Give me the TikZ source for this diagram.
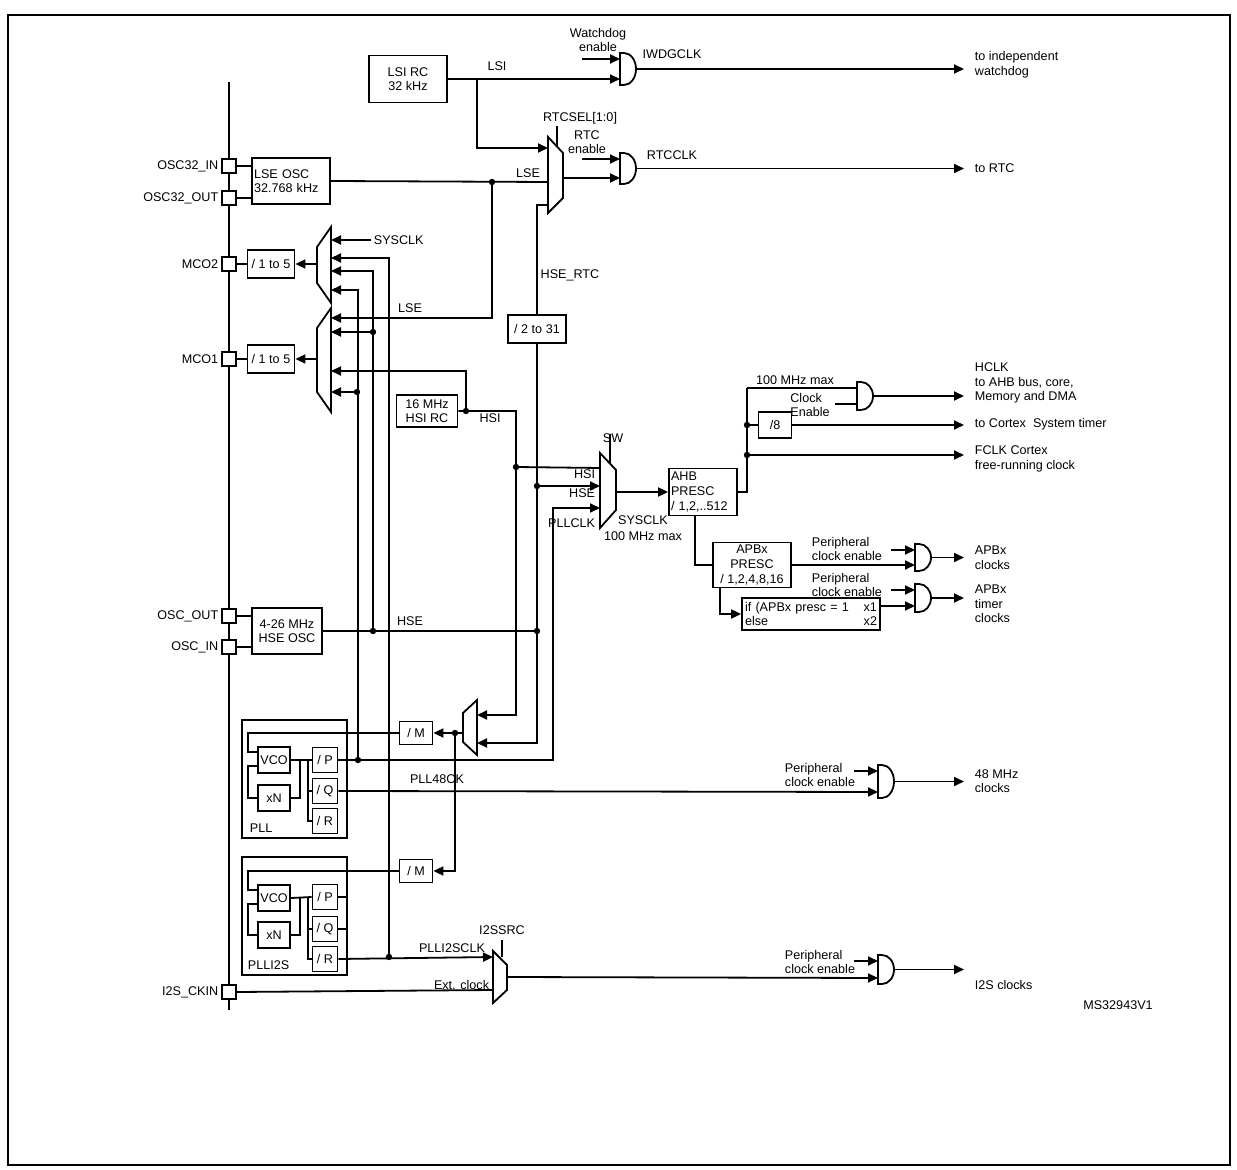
\documentclass[tikz,border=0pt]{standalone}
\usepackage{fontspec}
\setmainfont{Liberation Sans}
\usetikzlibrary{arrows.meta}

\tikzset{
  arr/.style={-{Triangle[length=5pt,width=4.5pt]}},
  bx/.style={rectangle, draw, inner sep=1pt, align=center},
  pad/.style={rectangle, draw, fill=white, minimum size=7pt, inner sep=0pt},
  dot/.style={circle, fill, inner sep=0pt, minimum size=3.2pt},
  lbl/.style={inner sep=1pt, align=left},
  outtxt/.style={anchor=west, inner sep=1pt, align=left},
}
% and gate: name, left x, first input y, second input y
\newcommand{\andg}[4]{%
  \draw (#2,#3-6) -- ++(4,0) arc[start angle=90, end angle=-90, x radius=6pt, y radius={(#4-#3+12)/4*1pt}] -- (#2,#4+6) -- cycle;
  \coordinate (#1-1) at (#2,#3);
  \coordinate (#1-2) at (#2,#4);
  \coordinate (#1-o) at (#2+16,{(#3+#4)/2});}

\begin{document}
\begin{tikzpicture}[x=0.5pt,y=-0.5pt,line width=0.9pt,font=\fontsize{6.3}{7.3}\selectfont]
\useasboundingbox (0,0) rectangle (1237,1170);
\draw[line width=0.6pt] (8,15) rectangle (1230,1165);

% left bus and pads
\draw (229,82) -- (229,1010);
\node (p32in) [pad] at (229,166) {};
\node (p32out) [pad] at (229,198) {};
\node (pmco2) [pad] at (229,264) {};
\node (pmco1) [pad] at (229,359) {};
\node (poscout) [pad] at (229,616) {};
\node (poscin) [pad] at (229,647) {};
\node (pi2s) [pad] at (229,992) {};
\node [lbl, anchor=east] at (p32in.west) {OSC32\_IN};
\node [lbl, anchor=east] at (p32out.west) {OSC32\_OUT};
\node [lbl, anchor=east] at (pmco2.west) {MCO2};
\node [lbl, anchor=east] at (pmco1.west) {MCO1};
\node [lbl, anchor=east] at (poscout.west) {OSC\_OUT};
\node [lbl, anchor=east] at (poscin.west) {OSC\_IN};
\node [lbl, anchor=east] at (pi2s.west) {I2S\_CKIN};

% boxes
\node (lsi) [bx, minimum width=39pt, minimum height=23.5pt] at (408,79) {LSI RC\\32 kHz};
\node (lse) [bx, minimum width=39pt, minimum height=23pt, text width=37pt, align=left] at (291,181) {LSE OSC\\32.768 kHz};
\node (mco2div) [bx, minimum width=23.5pt, minimum height=14pt] at (271,264) {/ 1 to 5};
\node (mco1div) [bx, minimum width=23.5pt, minimum height=14pt] at (271,359) {/ 1 to 5};
\node (hsi) [bx, minimum width=30.5pt, minimum height=16pt] at (427,411) {16 MHz\\HSI RC};
\node (div231) [bx, minimum width=29pt, minimum height=14pt] at (537,329) {/ 2 to 31};
\node (hse) [bx, minimum width=35pt, minimum height=23pt] at (287,631) {4-26 MHz\\HSE OSC};
\node (ahb) [bx, minimum width=34pt, minimum height=23.5pt, text width=32pt, align=left] at (703,492) {AHB\\PRESC\\/ 1,2,..512};
\node (div8) [bx, minimum width=16.5pt, minimum height=13pt] at (775,425) {/8};
\node (apb) [bx, minimum width=39pt, minimum height=22.5pt] at (752,565) {APBx\\PRESC\\/ 1,2,4,8,16};
\node (tim) [bx, minimum width=69pt, minimum height=16pt, text width=66pt] at (811,614) {if (APBx presc = 1 \hfill x1\\else \hfill x2};
\node (mpll) [bx, minimum width=16.5pt, minimum height=11.5pt] at (416,733) {/ M};
\node (mi2s) [bx, minimum width=16.5pt, minimum height=11.5pt] at (416,871) {/ M};

% PLL
\node (pll) [bx, minimum width=52.5pt, minimum height=59pt] at (294.5,779) {};
\node [lbl, anchor=west] at (247,828) {PLL};
\node (vco) [bx, minimum width=16pt, minimum height=13pt] at (274,760) {VCO};
\node (xn) [bx, minimum width=16pt, minimum height=13pt] at (274,798) {xN};
\node (pp) [bx, minimum width=12.5pt, minimum height=12.5pt] at (325,760) {/ P};
\node (pq) [bx, minimum width=12.5pt, minimum height=12.5pt] at (325,791) {/ Q};
\node (pr) [bx, minimum width=12.5pt, minimum height=12.5pt] at (325,821) {/ R};
% PLLI2S
\node (plli2s) [bx, minimum width=52.5pt, minimum height=59pt] at (294.5,916) {};
\node [lbl, anchor=west] at (245,965) {PLLI2S};
\node (vcob) [bx, minimum width=16pt, minimum height=13pt] at (274,898) {VCO};
\node (xnb) [bx, minimum width=16pt, minimum height=13pt] at (274,935) {xN};
\node (ppb) [bx, minimum width=12.5pt, minimum height=12.5pt] at (325,897) {/ P};
\node (pqb) [bx, minimum width=12.5pt, minimum height=12.5pt] at (325,929) {/ Q};
\node (prb) [bx, minimum width=12.5pt, minimum height=12.5pt] at (325,959) {/ R};

% multiplexers
\draw (548,137) -- (563,153) -- (563,198) -- (548,213) -- cycle;
\coordinate (rtcm1) at (548,148);
\coordinate (rtcm2) at (548,182);
\coordinate (rtcm3) at (548,205);
\coordinate (rtcmo) at (563,178);
\draw (557,126) -- (557,146);
\draw (600,453) -- (616,470) -- (616,510) -- (600,528) -- cycle;
\coordinate (swm1) at (600,468);
\coordinate (swm2) at (600,486);
\coordinate (swm3) at (600,508);
\coordinate (swmo) at (616,492);
\draw (610,434) -- (610,463);
\draw (331,227) -- (331,303) -- (317,283) -- (317,247) -- cycle;
\coordinate (mco2m1) at (331,240);
\coordinate (mco2m2) at (331,258);
\coordinate (mco2m3) at (331,271);
\coordinate (mco2m4) at (331,290);
\coordinate (mco2mo) at (317,264);
\draw (331,308) -- (331,412) -- (317,392) -- (317,328) -- cycle;
\coordinate (mco1m1) at (331,318);
\coordinate (mco1m2) at (331,332);
\coordinate (mco1m3) at (331,371);
\coordinate (mco1m4) at (331,392);
\coordinate (mco1mo) at (317,359);
\draw (477,700) -- (477,755) -- (463,742) -- (463,713) -- cycle;
\coordinate (pllm1) at (477,715);
\coordinate (pllm2) at (477,743);
\coordinate (pllmo) at (463,733);
\draw (493,951) -- (507,965) -- (507,990) -- (493,1003) -- cycle;
\coordinate (i2sm1) at (493,957);
\coordinate (i2sm2) at (493,990);
\coordinate (i2smo) at (507,977);
\draw (502,940) -- (502,957);

% gates
\andg{giwdg}{620}{59}{79}
\andg{grtc}{620}{159}{178}
\andg{ghclk}{857}{388}{404}
\andg{gapb}{915}{550}{565}
\andg{gtim}{915}{590}{606}
\andg{g48}{878}{771}{792}
\andg{gi2s}{878}{961}{978}

% junction dots
\node (dlse) [dot] at (492,182) {};
\node (dhsi) [dot] at (466,411) {};
\node (dhsisw) [dot] at (516,467) {};
\node (dhsesw) [dot] at (537,486) {};
\node (dhse) [dot] at (537,631) {};
\node (dhsemco) [dot] at (373,631) {};
\node (dhsemco1) [dot] at (373,332) {};
\node (dpll) [dot] at (358,760) {};
\node (dpllmco1) [dot] at (357,392) {};
\node (di2s) [dot] at (389,957) {};
\node (dm) [dot] at (455,733) {};
\node (dahb8) [dot] at (747,425) {};
\node (dahbf) [dot] at (747,455) {};
\coordinate (jlsi) at (477,79);
\coordinate (jahb) at (747,388);
\coordinate (jpllclk) at (553,508);

% pads to oscillators and outputs
\draw (p32in.east) -- (p32in.east -| lse.west);
\draw (p32out.east) -- (p32out.east -| lse.west);
\draw (poscout.east) -- (poscout.east -| hse.west);
\draw (poscin.east) -- (poscin.east -| hse.west);
\draw[arr] (mco2mo) -- (mco2div.east);
\draw (mco2div.west) -- (pmco2.east);
\draw[arr] (mco1mo) -- (mco1div.east);
\draw (mco1div.west) -- (pmco1.east);

% LSI / LSE
\draw[arr] (lsi.east) -- (giwdg-2);
\draw[arr] (jlsi) |- (rtcm1);
\draw (lse.east) -- (rtcm2);
\draw[arr] (dlse.center) |- (mco1m1);
\draw[arr] (grtc-1) ++(-19pt,0) -- (grtc-1);
\draw[arr] (giwdg-1) ++(-19pt,0) -- (giwdg-1);
\draw[arr] (rtcmo) -- (grtc-2);

% HSE
\draw (hse.east) -- (dhse.center);
\draw (dhse.center) -- (div231.south);
\draw (div231.north) |- (rtcm3);
\draw[arr] (dhsesw.center) -- (swm2);
\draw[arr] (dhse.center) |- (pllm2);
\draw[arr] (dhsemco.center) |- (mco2m3);
\draw[arr] (dhsemco1.center) -- (mco1m2);

% HSI
\draw (hsi.east) -| (dhsisw.center) -- (swm1);
\draw[arr] (dhsisw.center) |- (pllm1);
\draw[arr] (dhsi.center) |- (mco1m3);

% SYSCLK to MCO2
\node (sysclkin) [lbl, anchor=west] at (371,240) {SYSCLK};
\draw[arr] (sysclkin.west) -- (mco2m1);

% PLL
\draw[arr] (pllmo) -- (mpll.east);
\draw[arr] (dm.center) |- (mi2s.east);
\draw (mpll.west) -| ([xshift=-4.5pt,yshift=4pt]vco.west) -- ([yshift=4pt]vco.west);
\draw ([yshift=-3pt]vco.west) -- ++(-4.5pt,0) |- (xn.west);
\draw (vco.east) -- (pp.west);
\draw ([xshift=4.5pt]vco.east) |- (xn.east);
\draw ([xshift=8.5pt]vco.east) |- (pq.west);
\draw ([xshift=8.5pt]vco.east) |- (pr.west);
\draw[arr] (pp.east) -| (jpllclk) -- (swm3);
\draw[arr] (dpll.center) |- (mco2m4);
\draw[arr] (dpllmco1.center) -- (mco1m4);
\draw[arr] (pq.east) -- (g48-2);
% PLLI2S
\draw (mi2s.west) -| ([xshift=-4.5pt,yshift=4pt]vcob.west) -- ([yshift=4pt]vcob.west);
\draw ([yshift=-3pt]vcob.west) -- ++(-4.5pt,0) |- (xnb.west);
\draw (vcob.east) -- (ppb.west);
\draw ([xshift=4.5pt]vcob.east) |- (xnb.east);
\draw ([xshift=8.5pt]vcob.east) |- (pqb.west);
\draw ([xshift=8.5pt]vcob.east) |- (prb.west);
\draw (ppb.east) -- (ppb.east -| plli2s.east);
\draw (pqb.east) -- (pqb.east -| plli2s.east);
\draw[arr] (prb.east) -- (i2sm1);
\draw[arr] (di2s.center) |- (mco2m2);
\draw (pi2s.east) -- (i2sm2);
\draw[arr] (i2smo) -- (gi2s-2);

% system clock tree
\draw[arr] (swmo) -- (ahb.west);
\draw (ahb.east) -| (jahb);
\draw (jahb) -- (ghclk-1);
\draw (ghclk-2) -- ++(-11pt,0);
\draw (dahb8.center) -- (div8.west);
\draw ([xshift=-4pt]ahb.south) |- (apb.west);
\draw[arr] (apb.east) -- (gapb-2);
\draw[arr] ([xshift=-16pt]apb.south) |- (tim.west);
\draw[arr] (tim.east |- gtim-2) -- (gtim-2);
\draw[arr] (gapb-1) ++(-12pt,0) -- (gapb-1);
\draw[arr] (gtim-1) ++(-12pt,0) -- (gtim-1);
\draw[arr] (g48-1) ++(-12pt,0) -- (g48-1);
\draw[arr] (gi2s-1) ++(-12pt,0) -- (gi2s-1);

% outputs
\node (twd) [outtxt] at (972,65) {to independent\\watchdog};
\node (trtc) [outtxt] at (972,168) {to RTC};
\node (thclk) [outtxt] at (972,383) {HCLK\\to AHB bus, core,\\Memory and DMA};
\node (tcortex) [outtxt] at (972,424) {to Cortex\ \ System timer};
\node (tfclk) [outtxt] at (972,459) {FCLK Cortex\\free-running clock};
\node (tapb) [outtxt] at (972,558) {APBx\\clocks};
\node (ttim) [outtxt] at (972,604) {APBx\\timer\\clocks};
\node (t48) [outtxt] at (972,781) {48 MHz\\clocks};
\node (ti2s) [outtxt] at (972,985) {I2S clocks};
\draw[arr, shorten >=4pt] (giwdg-o) -- (giwdg-o -| twd.west);
\draw[arr, shorten >=4pt] (grtc-o) -- (grtc-o -| trtc.west);
\draw[arr, shorten >=4pt] (ghclk-o) -- (ghclk-o -| thclk.west);
\draw[arr, shorten >=4pt] (div8.east) -- (div8.east -| tcortex.west);
\draw[arr, shorten >=4pt] (dahbf.center) -- (dahbf.center -| tfclk.west);
\draw[arr, shorten >=4pt] (gapb-o) -- (gapb-o -| tapb.west);
\draw[arr, shorten >=4pt] (gtim-o) -- (gtim-o -| ttim.west);
\draw[arr, shorten >=4pt] (g48-o) -- (g48-o -| t48.west);
\draw[arr, shorten >=4pt] (gi2s-o) -- (gi2s-o -| ti2s.west);

% labels
\node [lbl] at (497,66) {LSI};
\node [lbl] at (528,173) {LSE};
\node [lbl] at (410,308) {LSE};
\node [lbl] at (570,275) {HSE\_RTC};
\node [lbl] at (490,418) {HSI};
\node [lbl] at (410,621) {HSE};
\node [lbl, align=center] at (598,40) {Watchdog\\enable};
\node [lbl] at (672,54) {IWDGCLK};
\node [lbl] at (580,118) {RTCSEL[1:0]};
\node [lbl, align=center] at (587,142) {RTC\\enable};
\node [lbl] at (672,155) {RTCCLK};
\node [lbl] at (613,438) {SW};
\node [lbl, anchor=east] at (598,474) {HSI};
\node [lbl, anchor=east] at (598,493) {HSE};
\node [lbl, anchor=east] at (598,523) {PLLCLK};
\node [lbl] at (643,520) {SYSCLK};
\node [lbl] at (643,536) {100 MHz max};
\node [lbl] at (795,380) {100 MHz max};
\node [lbl] at (810,405) {Clock\\Enable};
\node [lbl] at (847,549) {Peripheral\\clock enable};
\node [lbl] at (847,585) {Peripheral\\clock enable};
\node [lbl] at (820,775) {Peripheral\\clock enable};
\node [lbl] at (820,962) {Peripheral\\clock enable};
\node [lbl] at (437,779) {PLL48CK};
\node [lbl] at (452,948) {PLLI2SCLK};
\node [lbl] at (502,930) {I2SSRC};
\node [lbl, anchor=east] at (492,985) {Ext. clock};
\node [lbl] at (1118,1005) {MS32943V1};
\end{tikzpicture}
\end{document}
